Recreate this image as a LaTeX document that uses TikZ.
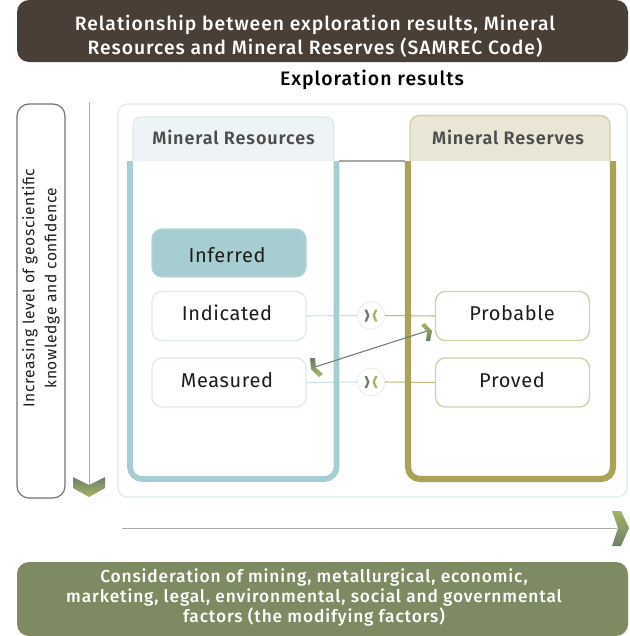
\documentclass[tikz,border=0pt]{standalone}
\usepackage{fontspec}
\setmainfont{Fira Sans}
\newfontfamily\medfont[LetterSpace=5]{Fira Sans Medium}
\newfontfamily\semifont[LetterSpace=5]{Fira Sans SemiBold}
\newfontfamily\regfont[LetterSpace=3]{Fira Sans}
\newfontfamily\sidefont[LetterSpace=4]{Fira Sans}
\usetikzlibrary{calc}
\definecolor{banDark}{HTML}{4A3F37}
\definecolor{banGreen}{HTML}{7D8A62}
\definecolor{teal}{HTML}{A6CDD1}
\definecolor{oliveBar}{HTML}{A9A257}
\definecolor{tabBlue}{HTML}{EEF4F6}
\definecolor{tabOlive}{HTML}{E9E6D6}
\definecolor{edgeBlue}{HTML}{DDEBEC}
\definecolor{edgeOlive}{HTML}{D2CFA6}
\definecolor{lineGrey}{HTML}{ABABA6}
\definecolor{chevA}{HTML}{A4B564}
\definecolor{chevB}{HTML}{6E7F6C}
\definecolor{txt}{HTML}{1D1D1B}
\definecolor{headTxt}{HTML}{4D4D4D}
\tikzset{
 x=0.75pt,y=-0.75pt,
 banner/.style={rounded corners=9pt,text=white,font=\fontsize{14.5}{18}\selectfont\medfont,align=center,inner sep=0,anchor=center},
 leveltext/.style={font=\fontsize{15}{18}\selectfont\regfont,text=txt,inner sep=0},
 resbox/.style={draw=edgeBlue,line width=1pt,fill=white,rounded corners=7.5pt,minimum width=115.5pt,minimum height=36.8pt,inner sep=0},
 resboxO/.style={resbox,draw=edgeOlive},
 hub/.style={circle,draw=black!8,line width=.6pt,fill=white,minimum size=20.5pt,inner sep=0},
 linkB/.style={draw=teal!60,line width=.8pt},
 linkO/.style={draw=oliveBar!75,line width=.8pt},
 headtxt/.style={font=\fontsize{13.5}{16}\selectfont\semifont,text=headTxt,inner sep=0},
}
\begin{document}
\begin{tikzpicture}
\useasboundingbox (0,0) rectangle (629,636);
% banners
\fill[banDark,rounded corners=9pt] (17,0) rectangle (628,62);
\node[banner] (top) at (315,36) {Relationship between exploration results, Mineral\\Resources and Mineral Reserves (SAMREC Code)};
\fill[banGreen,rounded corners=9pt] (17,562) rectangle (628,636);
\node[banner,font=\fontsize{13}{15}\selectfont\medfont] (bot) at (314,597) {Consideration of mining, metallurgical, economic,\\marketing, legal, environmental, social and governmental\\factors (the modifying factors)};
\node[font=\fontsize{14.6}{16}\selectfont\medfont,text=black,inner sep=0] (expl) at (372,80) {Exploration results};
% panel
\draw[edgeBlue,line width=1pt,fill=white,rounded corners=7pt] (118,104) rectangle (627,497);
% side label
\draw[black!55,line width=.9pt,rounded corners=9pt] (17,104) rectangle (65,498);
\node[rotate=90,font=\fontsize{11.7}{16.5}\selectfont\sidefont,text=txt,align=center,inner sep=0] (side) at (41,288) {Increasing level of geoscientific\\knowledge and confidence};
% arrows
\coordinate (vs) at (89,102); \coordinate (ve) at (89,485);
\draw[lineGrey,line width=.7pt] (vs) -- (ve);
\shade[left color=chevB,right color=chevA,shading angle=0] (73,477) -- (89,485) -- (105,477) -- (105,488) -- (89,497) -- (73,488) -- cycle;
\coordinate (hs) at (122,528); \coordinate (he) at (617,528);
\draw[lineGrey,line width=.7pt] (hs) -- (he);
\shade[top color=chevA,bottom color=chevB] (612,511) -- (621,511) -- (629,528) -- (621,546) -- (612,546) -- (618,528) -- cycle;
% level boxes
\node[resbox,draw=teal!85,fill=teal,minimum height=35.8pt] (inf) at (229,253) {};
\node[leveltext] at (227,255.5) {Inferred};
\node[resbox] (ind) at (229,316) {};
\node[leveltext] at (227,313) {Indicated};
\node[resbox] (mea) at (229,382.5) {};
\node[leveltext] at (227,380) {Measured};
\node[resboxO] (pro) at (512.5,316) {};
\node[leveltext] at (512,313) {Probable};
\node[resboxO] (prv) at (512.5,382.5) {};
\node[leveltext] at (512,380) {Proved};
% hubs and links (the bars lie over the links)
\node[hub] (h1) at (371,315.5) {};
\node[hub] (h2) at (371,382) {};
\draw[linkB] (ind.east) -- (h1.west);
\draw[linkO] (h1.east) -- (pro.west);
\draw[linkB] (mea.east) -- (h2.west);
\draw[linkO] (h2.east) -- (prv.west);
\foreach \h in {h1,h2}{
 \fill[chevB] ($(\h)+(-6.5,-6)$) -- ($(\h)+(-4,-6)$) -- ($(\h)+(-1.5,0)$) -- ($(\h)+(-4,6)$) -- ($(\h)+(-6.5,6)$) -- ($(\h)+(-4,0)$) -- cycle;
 \fill[chevA] ($(\h)+(6.5,-6)$) -- ($(\h)+(4,-6)$) -- ($(\h)+(1.5,0)$) -- ($(\h)+(4,6)$) -- ($(\h)+(6.5,6)$) -- ($(\h)+(4,0)$) -- cycle;
}
% mineral resources
\draw[teal,line width=4.3pt,rounded corners=9pt] (130,161) -- (130,479) -- (336.5,479) -- (336.5,161);
\draw[edgeBlue,line width=1pt,fill=tabBlue,rounded corners=6pt] (133,161) -- (133,117) -- (334,117) -- (334,161);
\node[headtxt] (mrh) at (233.5,137) {Mineral Resources};
% mineral reserves
\draw[oliveBar,line width=4.6pt,rounded corners=9pt] (408,161) -- (408,479) -- (613,479) -- (613,161);
\draw[edgeOlive,line width=1pt,fill=tabOlive,rounded corners=7pt] (410,161) -- (410,115.5) -- (610,115.5) -- (610,161);
\node[headtxt] (rrh) at (508,137) {Mineral Reserves};
\draw[lineGrey,line width=.9pt] (339,161) -- (405,161);
% cross arrow
\coordinate (ca) at (315,367); \coordinate (cb) at (427,331);
\draw[chevB,line width=.8pt] (ca) -- (cb);
\shade[top color=chevB,bottom color=chevA,shading angle=20] (310,358) -- (315,358) -- (316,368) -- (323,374) -- (319,377) -- (311,369) -- cycle;
\shade[top color=chevA,bottom color=chevB,shading angle=20] (421,325) -- (425,323) -- (432,331) -- (430,341) -- (426,341) -- (427,332) -- cycle;
\end{tikzpicture}
\end{document}
